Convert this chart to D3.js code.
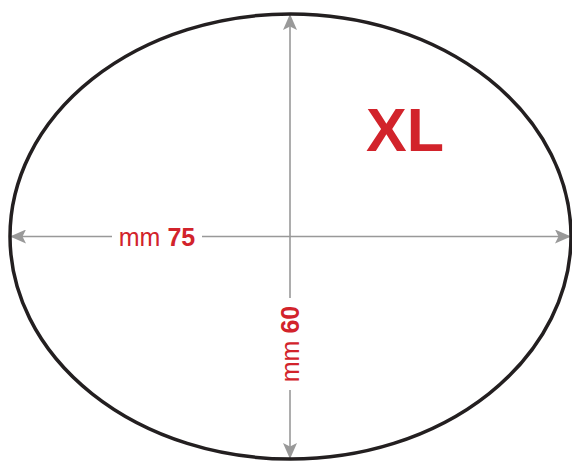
<!DOCTYPE html>
<html>
<head>
<meta charset="utf-8">
<script src="https://cdn.jsdelivr.net/npm/d3@7"></script>
<style>
  html, body { margin: 0; padding: 0; background: #fff; }
  svg { display: block; }
  text { font-family: "Liberation Sans", Arial, sans-serif; }
</style>
</head>
<body>
<svg id="chart" width="572" height="462"></svg>
<script>
// size label and dimensions (mm)
var sizeName = "XL";
var axisNames = ["width", "height"];
var axisValues = [75, 60];
var unitLabel = "mm";

var red = "#d2232b";
var grey = "#999999";

var svg = d3.select("#chart");

var x = d3.scaleLinear().domain([0, axisValues[0]]).range([10, 571]);
var y = d3.scaleLinear().domain([0, axisValues[1]]).range([14, 459]);

var cx = 290,
    cy = y(axisValues[1] / 2);

var defs = svg.append("defs");
defs.append("marker")
    .attr("id", "arrow")
    .attr("viewBox", "0 0 16 14")
    .attr("refX", 15)
    .attr("refY", 7)
    .attr("markerWidth", 16)
    .attr("markerHeight", 14)
    .attr("markerUnits", "userSpaceOnUse")
    .attr("orient", "auto-start-reverse")
    .append("path")
    .attr("d", "M0,0 L16,7 L0,14 L3.5,7 z")
    .attr("fill", grey);

// horizontal dimension line
var hGap = [112, 202];
svg.append("line")
    .attr("x1", hGap[0]).attr("y1", cy)
    .attr("x2", x(0) + 1).attr("y2", cy)
    .attr("stroke", grey).attr("stroke-width", 1.6)
    .attr("marker-end", "url(#arrow)");
svg.append("line")
    .attr("x1", hGap[1]).attr("y1", cy)
    .attr("x2", x(axisValues[0]) - 1).attr("y2", cy)
    .attr("stroke", grey).attr("stroke-width", 1.6)
    .attr("marker-end", "url(#arrow)");

// vertical dimension line
var vGap = [298, 390];
svg.append("line")
    .attr("x1", cx).attr("y1", vGap[0])
    .attr("x2", cx).attr("y2", y(0) + 1)
    .attr("stroke", grey).attr("stroke-width", 1.6)
    .attr("marker-end", "url(#arrow)");
svg.append("line")
    .attr("x1", cx).attr("y1", vGap[1])
    .attr("x2", cx).attr("y2", y(axisValues[1]) - 1)
    .attr("stroke", grey).attr("stroke-width", 1.6)
    .attr("marker-end", "url(#arrow)");

// ellipse outline
svg.append("ellipse")
    .attr("cx", (x(0) + x(axisValues[0])) / 2).attr("cy", cy)
    .attr("rx", (x(axisValues[0]) - x(0)) / 2)
    .attr("ry", (y(axisValues[1]) - y(0)) / 2)
    .attr("fill", "none")
    .attr("stroke", "#231f20")
    .attr("stroke-width", 3.5);

// width label
var wl = svg.append("text")
    .attr("x", (hGap[0] + hGap[1]) / 2)
    .attr("y", cy + 9)
    .attr("text-anchor", "middle")
    .attr("font-size", 25)
    .attr("fill", red);
wl.append("tspan").text(unitLabel + " ");
wl.append("tspan").attr("font-weight", "bold").text(axisValues[0]);

// height label (rotated)
var hl = svg.append("text")
    .attr("transform", "translate(" + (cx + 9) + "," + ((vGap[0] + vGap[1]) / 2) + ") rotate(-90)")
    .attr("text-anchor", "middle")
    .attr("font-size", 25)
    .attr("fill", red);
hl.append("tspan").text(unitLabel + " ");
hl.append("tspan").attr("font-weight", "bold").text(axisValues[1]);

// size name
svg.append("text")
    .attr("x", 405)
    .attr("y", 151)
    .attr("text-anchor", "middle")
    .attr("font-size", 61)
    .attr("font-weight", "bold")
    .attr("fill", red)
    .text(sizeName);
</script>
</body>
</html>
